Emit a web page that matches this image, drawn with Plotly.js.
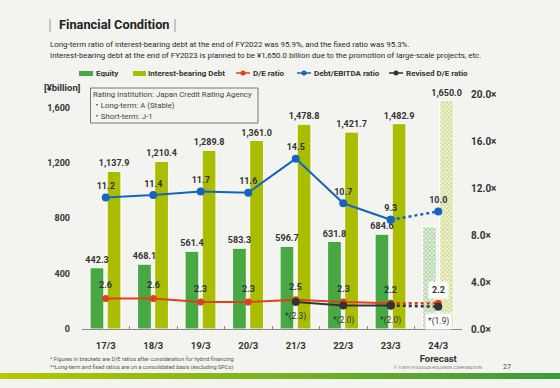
<!DOCTYPE html>
<html>
<head>
<meta charset="utf-8">
<script src="https://cdn.plot.ly/plotly-3.0.1.min.js"></script>
<style>html,body{margin:0;padding:0;background:#f3f3ef;}#chart{width:560px;height:388px;}</style>
</head>
<body>
<div id="chart"></div>
<script>
// ---- data ----
const categories = ['17/3','18/3','19/3','20/3','21/3','22/3','23/3','24/3'];
const tickLabels = ['17/3','18/3','19/3','20/3','21/3','22/3','23/3','24/3<br>Forecast'];
const equity = [442.3, 468.1, 561.4, 583.3, 596.7, 631.8, 684.6, 740];
const equityLabelShown = [true, true, true, true, true, true, true, false];
const debt = [1137.9, 1210.4, 1289.8, 1361.0, 1478.8, 1421.7, 1482.9, 1650.0];
const deRatio = [2.6, 2.6, 2.3, 2.3, 2.5, 2.3, 2.2, 2.2];
const debtEbitda = [11.2, 11.4, 11.7, 11.6, 14.5, 10.7, 9.3, 10.0];
const revisedDE = [null, null, null, null, 2.3, 2.0, 2.0, 1.9];
const isForecast = [false, false, false, false, false, false, false, true];
const leftTicks = [0, 400, 800, 1200, 1600];
const rightTicks = [0, 4, 8, 12, 16, 20];

// ---- style ----
const FONT = 'Roboto, "Noto Sans CJK JP", "Noto Sans", sans-serif';
const BG = '#f3f3ef';
const C_EQ = '#48a843', C_DEBT = '#abbd00', C_DE = '#e2401c', C_EB = '#1565c0', C_REV = '#333333';
const TXT = '#333333';

// pixel helpers for paper-referenced decorations
const L = 82, R = 462, T = 94, B = 329;
const px = x => (x - L) / (R - L);
const py = y => (B - y) / (B - T);

const fmt1 = v => v.toLocaleString('en-US', {minimumFractionDigits: 1, maximumFractionDigits: 1});
const lastSolid = 6;
const BAR_W = 0.29;

const traces = [
  {
    type: 'bar', name: 'Interest-bearing Debt', x: categories, y: debt, yaxis: 'y',
    width: BAR_W, offset: 0.03,
    marker: {
      color: isForecast.map(f => f ? '#d2dc80' : C_DEBT),
      line: {color: '#ffffff', width: 1},
      pattern: {shape: isForecast.map(f => f ? 'x' : ''), fgcolor: '#b0c21c', bgcolor: '#e2e9a8', size: 3, solidity: 0.55}
    },
    text: debt.map(fmt1),
    textposition: 'outside', constraintext: 'none', cliponaxis: false,
    textfont: {family: FONT, size: 9, color: TXT, weight: 'bold'},
    hoverinfo: 'skip'
  },
  {
    type: 'bar', name: 'Equity', x: categories, y: equity, yaxis: 'y',
    width: BAR_W, offset: -0.33,
    marker: {
      color: isForecast.map(f => f ? '#a3d39c' : C_EQ),
      line: {color: '#ffffff', width: 1},
      pattern: {shape: isForecast.map(f => f ? 'x' : ''), fgcolor: '#62b55b', bgcolor: '#cbe7c6', size: 3, solidity: 0.55}
    },
    text: equity.map((v, i) => equityLabelShown[i] ? fmt1(v) : ''),
    textposition: 'outside', constraintext: 'none', cliponaxis: false,
    textfont: {family: FONT, size: 9, color: TXT, weight: 'bold'},
    hoverinfo: 'skip'
  },
  {
    type: 'scatter', name: 'D/E ratio', mode: 'lines+markers', yaxis: 'y2',
    x: categories.slice(0, lastSolid + 1), y: deRatio.slice(0, lastSolid + 1),
    line: {color: C_DE, width: 2}, marker: {color: C_DE, size: 7}, cliponaxis: false
  },
  {
    type: 'scatter', name: 'D/E ratio (forecast)', mode: 'lines+markers', yaxis: 'y2', showlegend: false,
    x: categories.slice(lastSolid), y: deRatio.slice(lastSolid),
    line: {color: C_DE, width: 2.5, dash: 'dot'}, marker: {color: C_DE, size: 7}, cliponaxis: false
  },
  {
    type: 'scatter', name: 'Revised D/E ratio', mode: 'lines+markers', yaxis: 'y2',
    x: categories.slice(0, lastSolid + 1), y: revisedDE.slice(0, lastSolid + 1),
    line: {color: C_REV, width: 2}, marker: {color: C_REV, size: 8}, cliponaxis: false
  },
  {
    type: 'scatter', name: 'Revised D/E ratio (forecast)', mode: 'lines+markers', yaxis: 'y2', showlegend: false,
    x: categories.slice(lastSolid), y: revisedDE.slice(lastSolid),
    line: {color: C_REV, width: 2.5, dash: 'dot'}, marker: {color: C_REV, size: 8}, cliponaxis: false
  },
  {
    type: 'scatter', name: 'Debt/EBITDA ratio', mode: 'lines+markers+text', yaxis: 'y2',
    x: categories.slice(0, lastSolid + 1), y: debtEbitda.slice(0, lastSolid + 1),
    text: debtEbitda.slice(0, lastSolid + 1).map(fmt1), textposition: 'top center',
    textfont: {family: FONT, size: 9, color: TXT, weight: 'bold'},
    line: {color: C_EB, width: 2}, marker: {color: C_EB, size: 8}, cliponaxis: false
  },
  {
    type: 'scatter', name: 'Debt/EBITDA ratio (forecast)', mode: 'lines+markers+text', yaxis: 'y2', showlegend: false,
    x: categories.slice(lastSolid), y: debtEbitda.slice(lastSolid),
    text: debtEbitda.slice(lastSolid).map((v, i) => i === 0 ? '' : fmt1(v)), textposition: 'top center',
    textfont: {family: FONT, size: 9, color: TXT, weight: 'bold'},
    line: {color: C_EB, width: 2.5, dash: 'dot'}, marker: {color: C_EB, size: 8}, cliponaxis: false
  }
];

const annotations = [];
const shapes = [];
function txt(x, y, text, size, opts) {
  annotations.push(Object.assign({
    xref: 'paper', yref: 'paper', x: px(x), y: py(y), text: text, showarrow: false,
    xanchor: 'left', yanchor: 'middle',
    font: {family: FONT, size: size, color: TXT}
  }, opts || {}));
}

// D/E labels and revised labels from data
deRatio.forEach((v, i) => {
  annotations.push({
    x: categories[i], y: v, xref: 'x', yref: 'y2', yshift: 13, showarrow: false,
    text: fmt1(v), font: {family: FONT, size: 9, color: TXT, weight: 'bold'},
    bgcolor: isForecast[i] ? '#ffffff' : 'rgba(0,0,0,0)', borderpad: isForecast[i] ? 3 : 0
  });
});
revisedDE.forEach((v, i) => {
  if (v === null) return;
  annotations.push({
    x: categories[i], y: v, xref: 'x', yref: 'y2', yshift: -15, showarrow: false,
    text: '*(' + fmt1(v) + ')', font: {family: FONT, size: 8.5, color: TXT},
    bgcolor: isForecast[i] ? '#ffffff' : 'rgba(0,0,0,0)', borderpad: isForecast[i] ? 2 : 0
  });
});

// Title & subtitle
txt(57, 25, '<b>Financial Condition</b>', 12.8, {font: {family: FONT, size: 12.8, color: '#222'}});
shapes.push({type: 'line', xref: 'paper', yref: 'paper', x0: px(50), x1: px(50), y0: py(19), y1: py(32), line: {color: '#999', width: 1}});
shapes.push({type: 'line', xref: 'paper', yref: 'paper', x0: px(175), x1: px(175), y0: py(19), y1: py(32), line: {color: '#999', width: 1}});
txt(48, 44.5, 'Long-term ratio of interest-bearing debt at the end of FY2022 was 95.9%, and the fixed ratio was 95.3%.', 7.9, {font: {family: FONT, size: 7.9, color: '#2a2a2a'}});
txt(48, 55.5, 'Interest-bearing debt at the end of FY2023 is planned to be ¥1,650.0 billion due to the promotion of large-scale projects, etc.', 7.9, {font: {family: FONT, size: 7.9, color: '#2a2a2a'}});

// Custom legend
const legBold = {family: FONT, size: 8, color: TXT, weight: 'bold'};
shapes.push({type: 'rect', xref: 'paper', yref: 'paper', x0: px(79), x1: px(93), y0: py(76), y1: py(71), fillcolor: C_EQ, line: {width: 0}});
txt(94, 73, 'Equity', 8, {font: legBold});
shapes.push({type: 'rect', xref: 'paper', yref: 'paper', x0: px(133), x1: px(146), y0: py(76), y1: py(71), fillcolor: C_DEBT, line: {width: 0}});
txt(146, 73, 'Interest-bearing Debt', 8, {font: legBold});
[[236, C_DE, 'D/E ratio'], [297, C_EB, 'Debt/EBITDA ratio'], [389, C_REV, 'Revised D/E ratio']].forEach(([x, c, t]) => {
  shapes.push({type: 'line', xref: 'paper', yref: 'paper', x0: px(x), x1: px(x + 14), y0: py(73), y1: py(73), line: {color: c, width: 1.5}});
  shapes.push({type: 'circle', xref: 'paper', yref: 'paper', x0: px(x + 4.5), x1: px(x + 9.5), y0: py(75.5), y1: py(70.5), fillcolor: c, line: {width: 0}});
  txt(x + 15, 73, t, 8, {font: legBold});
});

// unit label
txt(42, 87, '[¥billion]', 9.5, {font: {family: FONT, size: 9.5, color: TXT, weight: 'bold'}});

// rating box
shapes.push({type: 'rect', xref: 'paper', yref: 'paper', x0: px(90.5), x1: px(258), y0: py(123), y1: py(88), fillcolor: BG, line: {color: '#777', width: 1}, layer: 'above'});
const rateFont = {family: FONT, size: 7.8, color: '#444'};
txt(91, 94.5, 'Rating Institution: Japan Credit Rating Agency', 7.8, {font: rateFont});
txt(91, 105.5, '・Long-term: A (Stable)', 7.8, {font: rateFont});
txt(91, 116.5, '・Short-term: J-1', 7.8, {font: rateFont});

// footnotes
const noteFont = {family: FONT, size: 5.6, color: '#555'};
txt(48, 358.5, '* Figures in brackets are D/E ratios after consideration for hybrid financing', 5.6, {font: noteFont});
txt(48, 367.5, '**Long-term and fixed ratios are on a consolidated basis (excluding SPCs)', 5.6, {font: noteFont});
txt(392, 367.5, '© TOKYU FUDOSAN HOLDINGS CORPORATION', 4.2, {font: {family: FONT, size: 4.2, color: '#777'}});
txt(501, 367, '27', 7, {font: {family: FONT, size: 7, color: '#444'}});

// bottom gradient bar
const g0 = [180, 200, 0], g1 = [58, 156, 60];
const nSeg = 56;
for (let k = 0; k < nSeg; k++) {
  const t = k / (nSeg - 1);
  const c = g0.map((a, j) => Math.round(a + (g1[j] - a) * t));
  shapes.push({type: 'rect', xref: 'paper', yref: 'paper', x0: px(k * 10), x1: px(k * 10 + 10.5), y0: py(379), y1: py(373),
    fillcolor: 'rgb(' + c.join(',') + ')', line: {width: 0}});
}

const layout = {
  width: 560, height: 388,
  margin: {l: L, r: 560 - R, t: T, b: 388 - B},
  paper_bgcolor: BG, plot_bgcolor: BG,
  showlegend: false,
  barmode: 'overlay',
  font: {family: FONT, color: TXT},
  xaxis: {
    type: 'category', range: [-0.5, 7.5], tickvals: categories, ticktext: tickLabels, tickangle: 0,
    showline: true, linecolor: '#888', linewidth: 1,
    ticks: 'inside', tickson: 'boundaries', ticklen: 3, tickcolor: '#888',
    showgrid: false, zeroline: false, fixedrange: true,
    tickfont: {family: FONT, size: 9.5, color: TXT, weight: 'bold'}, ticklabelstandoff: 8
  },
  yaxis: {
    range: [0, 1697], tickvals: leftTicks, ticktext: leftTicks.map(v => v.toLocaleString('en-US')),
    showgrid: false, zeroline: false, showline: false, ticks: '',
    tickfont: {family: FONT, size: 9, color: TXT, weight: 'bold'}, ticklabelstandoff: 11
  },
  yaxis2: {
    overlaying: 'y', side: 'right', range: [0, 20], tickvals: rightTicks,
    ticktext: rightTicks.map(v => v.toFixed(1) + '×'),
    showgrid: false, zeroline: false, showline: false, ticks: '',
    tickfont: {family: FONT, size: 10, color: TXT, weight: 'bold'}, ticklabelstandoff: 8
  },
  annotations: annotations,
  shapes: shapes
};

Plotly.newPlot('chart', traces, layout, {displayModeBar: false, staticPlot: true});
</script>
</body>
</html>
